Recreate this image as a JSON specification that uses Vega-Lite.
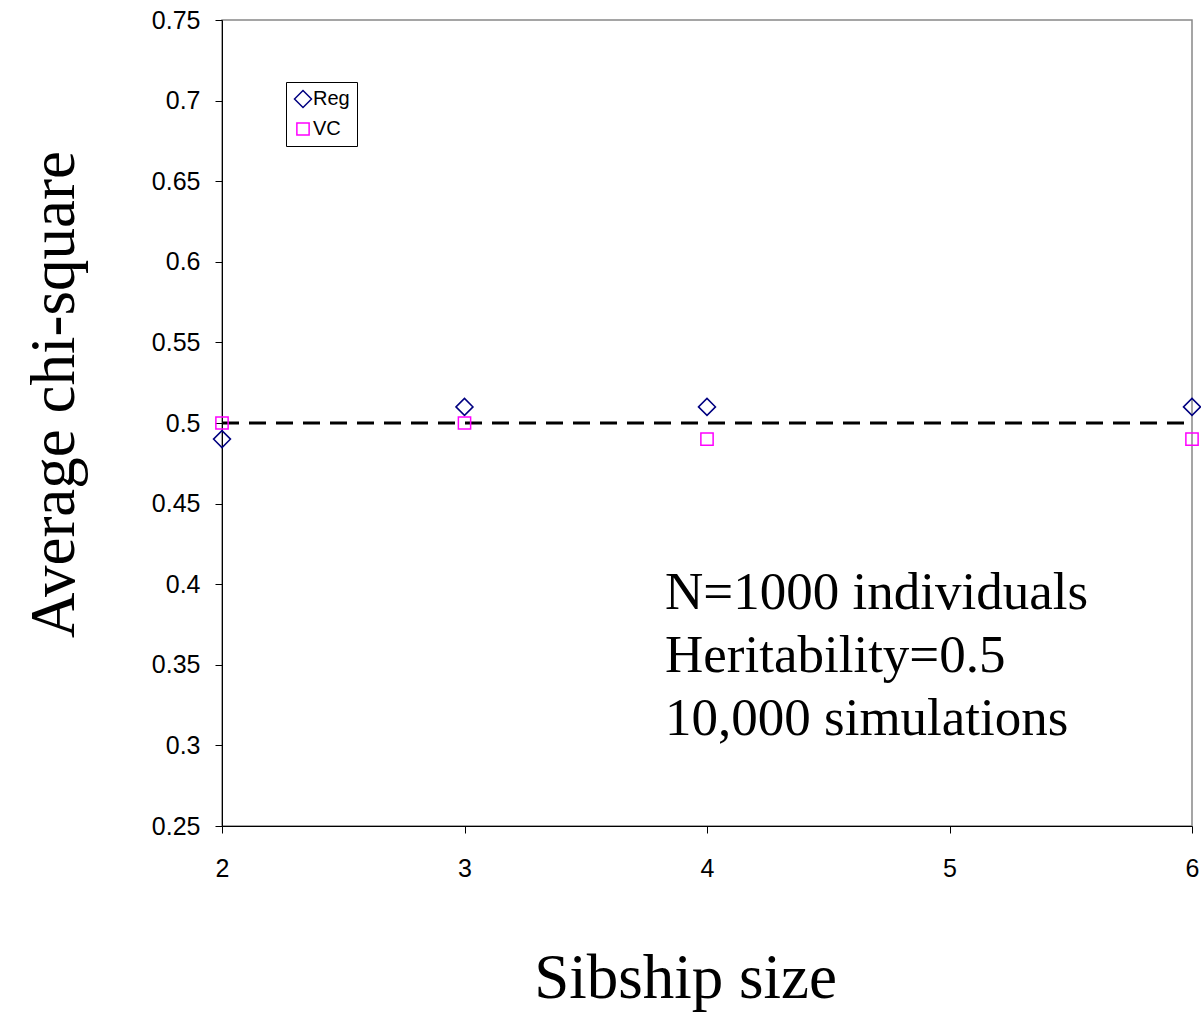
{
  "$schema": "https://vega.github.io/schema/vega-lite/v6.json",
  "width": 970,
  "height": 806,
  "autosize": {"type": "none"},
  "padding": {"left": 222, "top": 20, "right": 9, "bottom": 191},
  "background": "white",
  "config": {
    "view": {"stroke": "#888888", "strokeWidth": 1.5},
    "axis": {
      "grid": false,
      "domainColor": "black",
      "domainWidth": 1,
      "tickColor": "black",
      "tickWidth": 1,
      "tickSize": 7,
      "labelFont": "Liberation Sans",
      "labelFontSize": 25,
      "labelColor": "black",
      "labelFlush": false,
      "labelOverlap": false,
      "titleFont": "Liberation Serif",
      "titleFontSize": 63,
      "titleFontWeight": "normal",
      "titleColor": "black"
    }
  },
  "datasets": {
    "points": [
      {"size": 2, "value": 0.49, "series": "Reg"},
      {"size": 3, "value": 0.51, "series": "Reg"},
      {"size": 4, "value": 0.51, "series": "Reg"},
      {"size": 6, "value": 0.51, "series": "Reg"},
      {"size": 2, "value": 0.50, "series": "VC"},
      {"size": 3, "value": 0.50, "series": "VC"},
      {"size": 4, "value": 0.49, "series": "VC"},
      {"size": 6, "value": 0.49, "series": "VC"}
    ],
    "ref": [{"x": 2, "x2": 6, "y": 0.5}],
    "note": [{"x": 3.827, "y": 0.3846, "text": ["N=1000 individuals", "Heritability=0.5", "10,000 simulations"]}]
  },
  "layer": [
    {
      "data": {"name": "ref"},
      "mark": {"type": "rule", "color": "black", "strokeWidth": 3, "strokeDash": [17, 10]},
      "encoding": {
        "x": {"field": "x", "type": "quantitative", "scale": {"domain": [2, 6], "nice": false, "zero": false}},
        "x2": {"field": "x2"},
        "y": {"field": "y", "type": "quantitative", "scale": {"domain": [0.25, 0.75], "nice": false, "zero": false}}
      }
    },
    {
      "data": {"name": "points"},
      "mark": {"type": "point", "filled": false, "strokeWidth": 1.5, "opacity": 1},
      "encoding": {
        "x": {
          "field": "size", "type": "quantitative",
          "scale": {"domain": [2, 6], "nice": false, "zero": false},
          "axis": {
            "values": [2, 3, 4, 5, 6], "format": "d", "labelPadding": 23,
            "title": "Sibship size", "titleX": 463, "titleY": 171,
            "titleBaseline": "alphabetic", "titleAlign": "center"
          }
        },
        "y": {
          "field": "value", "type": "quantitative",
          "scale": {"domain": [0.25, 0.75], "nice": false, "zero": false},
          "axis": {
            "values": [0.25, 0.3, 0.35, 0.4, 0.45, 0.5, 0.55, 0.6, 0.65, 0.7, 0.75],
            "format": ".2~f", "labelPadding": 15,
            "title": "Average chi-square", "titleX": -149, "titleY": 374,
            "titleBaseline": "alphabetic", "titleAlign": "center", "titleAngle": -90
          }
        },
        "color": {
          "field": "series", "type": "nominal",
          "scale": {"domain": ["Reg", "VC"], "range": ["#000080", "#FF00FF"]},
          "legend": {
            "title": null, "orient": "none", "legendX": 64, "legendY": 62,
            "strokeColor": "black", "fillColor": "white", "padding": 7,
            "labelFont": "Liberation Sans", "labelFontSize": 20, "labelColor": "black",
            "labelOffset": 0, "rowPadding": 8, "symbolStrokeWidth": 1.5
          }
        },
        "shape": {
          "field": "series", "type": "nominal",
          "scale": {"domain": ["Reg", "VC"], "range": ["diamond", "square"]}
        },
        "size": {
          "field": "series", "type": "nominal",
          "scale": {"domain": ["Reg", "VC"], "range": [289, 150]}
        }
      }
    },
    {
      "data": {"name": "note"},
      "mark": {"type": "text", "font": "Liberation Serif", "fontSize": 53, "align": "left", "baseline": "alphabetic", "lineHeight": 63, "color": "black"},
      "encoding": {
        "x": {"field": "x", "type": "quantitative"},
        "y": {"field": "y", "type": "quantitative"},
        "text": {"field": "text"}
      }
    }
  ]
}
